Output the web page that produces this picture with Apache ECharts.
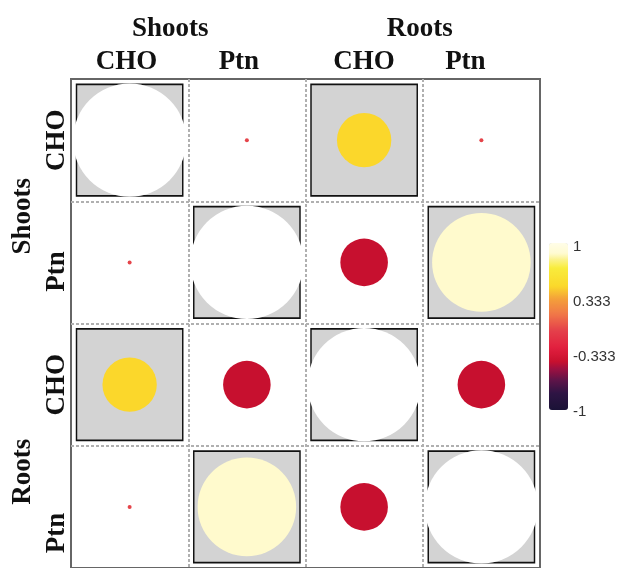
<!DOCTYPE html>
<html>
<head>
<meta charset="utf-8">
<script src="https://cdn.jsdelivr.net/npm/echarts@6/dist/echarts.min.js"></script>
<style>
  html, body { margin: 0; padding: 0; background: #ffffff; }
  #chart { width: 627px; height: 568px; }
</style>
</head>
<body>
<div id="chart"></div>
<script>
// Variables (rows and columns of the correlation matrix) and their tissue groups
const variables = ['CHO', 'Ptn', 'CHO', 'Ptn'];
const groups = ['Shoots', 'Roots'];

// Pearson correlation coefficients
const corrMatrix = [
  [1.00, -0.035, 0.48, -0.035],
  [-0.035, 1.00, -0.42, 0.87],
  [0.48, -0.42, 1.00, -0.42],
  [-0.035, 0.87, -0.42, 1.00]
];

// 1 = significant pair (drawn on a grey, outlined background)
const significant = [
  [1, 0, 1, 0],
  [0, 1, 0, 1],
  [1, 0, 1, 0],
  [0, 1, 0, 1]
];

// Colour bar tick labels, bottom to top
const colorbarLabels = ['-1', '-0.333', '0.333', '1'];

// ---- layout ----
const GRID = { left: 71, top: 79, width: 469, height: 494 };
const n = variables.length;
const cellW = GRID.width / n;
const cellH = GRID.height / n;
const fullD = Math.min(cellW, cellH) - 4;

// per-label nudges (extra trailing padding, px) for the matrix headings
const topVarPad = [6, 16, 0, 32];
const topGroupPad = [36, 6];
const leftVarPad = [0, 18, 0, 52];
const leftGroupPad = [30, 52];

// colour ramp: value -> colour anchor points
const rampStops = [
  [-1.00, '#1a1236'], [-0.80, '#2e1444'], [-0.65, '#5c1448'], [-0.50, '#a01040'],
  [-0.42, '#c8102e'], [-0.25, '#e2203f'], [-0.05, '#e4404a'], [0.15, '#f07848'],
  [0.33, '#f4a03a'], [0.48, '#fbd82a'], [0.70, '#f8ec3c'], [0.80, '#fbf28a'],
  [0.87, '#fffbd0'], [1.00, '#fffde8']
];
function hexToRgb(h) {
  return [parseInt(h.slice(1, 3), 16), parseInt(h.slice(3, 5), 16), parseInt(h.slice(5, 7), 16)];
}
function rampAt(v) {
  for (let k = 0; k < rampStops.length - 1; k++) {
    const [v0, c0] = rampStops[k], [v1, c1] = rampStops[k + 1];
    if (v >= v0 && v <= v1) {
      const t = (v - v0) / (v1 - v0);
      const a = hexToRgb(c0), b = hexToRgb(c1);
      return 'rgb(' + a.map((x, i) => Math.round(x + (b[i] - x) * t)).join(',') + ')';
    }
  }
  return rampStops[rampStops.length - 1][1];
}
const rampColors = [];
for (let k = 0; k <= 80; k++) rampColors.push(rampAt(-1 + k * 0.025));

// ---- data built from the matrix ----
const bgData = [], diagData = [], corrData = [];
corrMatrix.forEach((row, i) => {
  row.forEach((r, j) => {
    if (significant[i][j]) bgData.push([j, i]);
    if (i === j) diagData.push([j, i, r]);
    else corrData.push([j, i, r]);
  });
});

const serifFont = {
  fontFamily: 'Liberation Serif',
  fontWeight: 'bold',
  fontSize: 27,
  color: '#111111'
};
function nudgedLabel(pads, extra) {
  const rich = {};
  pads.forEach((p, i) => { rich['n' + i] = Object.assign({ padding: [0, p, 0, 0] }, serifFont); });
  return Object.assign({
    interval: 0,
    formatter: (value, index) => '{n' + index + '|' + value + '}',
    rich: rich
  }, serifFont, extra);
}
const dashed = { color: '#b0b0b0', width: 2, type: [3, 2] };

const chart = echarts.init(document.getElementById('chart'), null, { renderer: 'canvas' });
chart.setOption({
  animation: false,
  backgroundColor: '#ffffff',
  grid: [
    Object.assign({ show: true, borderColor: '#666666', borderWidth: 2, backgroundColor: '#ffffff' }, GRID),
    { left: 549, top: 247, width: 19, height: 165 }
  ],
  xAxis: [
    {
      type: 'category', data: variables, position: 'top', gridIndex: 0,
      axisLine: { show: false }, axisTick: { show: false },
      axisLabel: nudgedLabel(topVarPad, { margin: 3 }),
      splitLine: { show: true, interval: 0, showMinLine: false, showMaxLine: false, lineStyle: dashed }
    },
    {
      type: 'category', data: groups, position: 'top', offset: 33, gridIndex: 0,
      axisLine: { show: false }, axisTick: { show: false },
      axisLabel: nudgedLabel(topGroupPad, { margin: 3 }),
      splitLine: { show: false }
    },
    { type: 'value', gridIndex: 1, show: false }
  ],
  yAxis: [
    {
      type: 'category', data: variables, inverse: true, position: 'left', gridIndex: 0,
      axisLine: { show: false }, axisTick: { show: false },
      axisLabel: nudgedLabel(leftVarPad, { margin: 0, rotate: 90 }),
      splitLine: { show: true, interval: 0, showMinLine: false, showMaxLine: false, lineStyle: dashed }
    },
    {
      type: 'category', data: groups, inverse: true, position: 'left', offset: 34, gridIndex: 0,
      axisLine: { show: false }, axisTick: { show: false },
      axisLabel: nudgedLabel(leftGroupPad, { margin: 0, rotate: 90 }),
      splitLine: { show: false }
    },
    {
      type: 'category', data: colorbarLabels, boundaryGap: false, position: 'right', gridIndex: 1,
      axisLine: { show: false }, axisTick: { show: false }, splitLine: { show: false },
      axisLabel: { margin: 5, interval: 0, fontFamily: 'Liberation Sans', fontSize: 15, color: '#333333' }
    }
  ],
  visualMap: {
    type: 'continuous',
    min: -1, max: 1,
    dimension: 2,
    seriesIndex: 2,
    calculable: false,
    orient: 'vertical',
    left: 549, top: 243,
    itemWidth: 19, itemHeight: 167,
    padding: 0,
    text: null,
    inRange: { color: rampColors }
  },
  series: [
    {
      name: 'significance', type: 'scatter', xAxisIndex: 0, yAxisIndex: 0,
      symbol: 'rect', symbolSize: [cellW - 11, cellH - 12],
      itemStyle: { color: '#d3d3d3', borderColor: '#111111', borderWidth: 1.5, opacity: 1 },
      data: bgData, silent: true, z: 1
    },
    {
      name: 'diagonal', type: 'scatter', xAxisIndex: 0, yAxisIndex: 0,
      symbol: 'circle', symbolSize: fullD,
      itemStyle: { color: '#ffffff', opacity: 1 },
      data: diagData, silent: true, z: 2
    },
    {
      name: 'correlation', type: 'scatter', xAxisIndex: 0, yAxisIndex: 0,
      symbol: 'circle',
      symbolSize: function (v) { return Math.max(4, fullD * Math.abs(v[2])); },
      itemStyle: { opacity: 1 },
      data: corrData, silent: true, z: 3
    }
  ]
});
</script>
</body>
</html>
